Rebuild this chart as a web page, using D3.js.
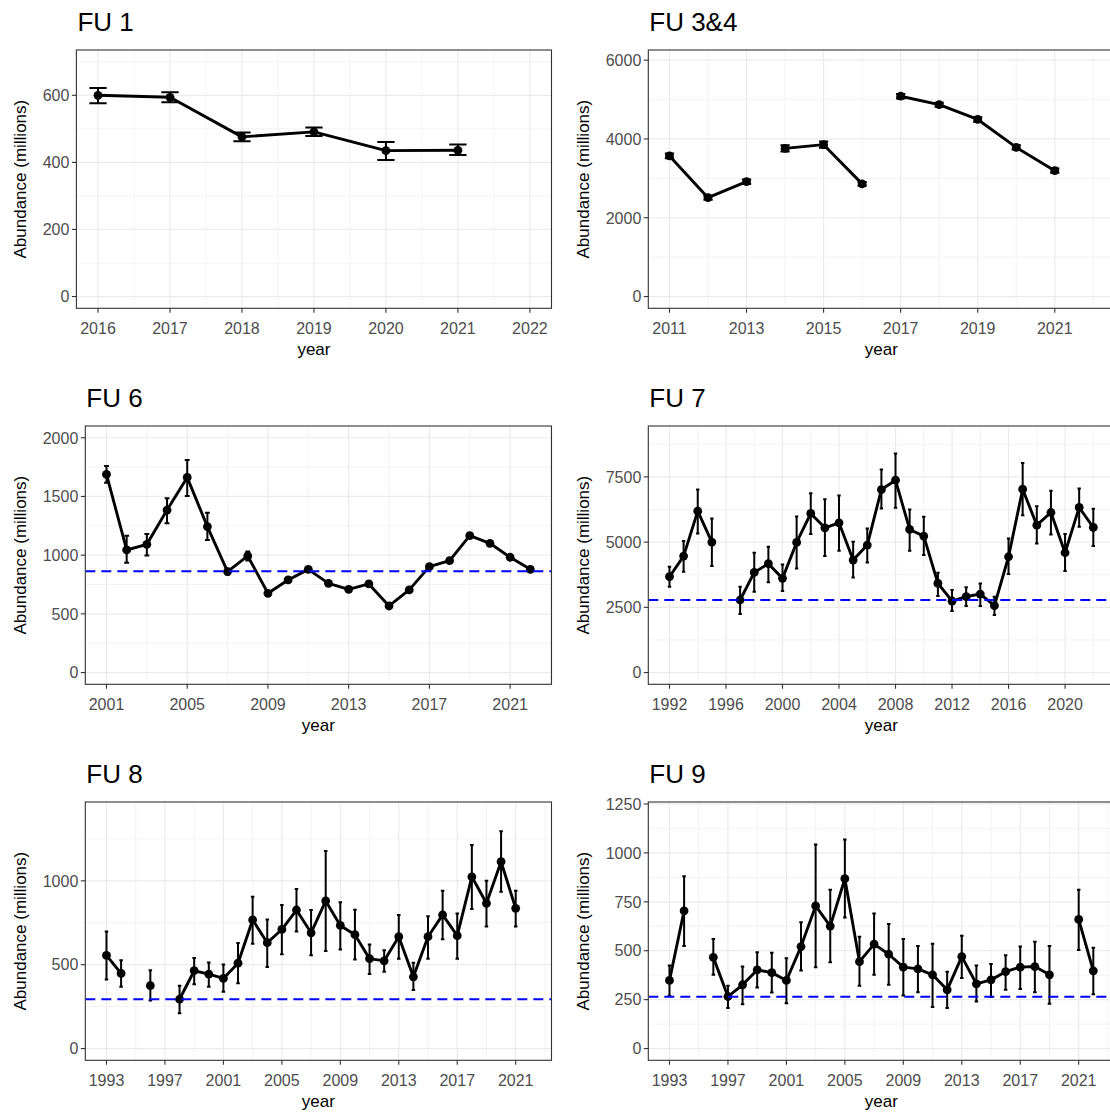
<!DOCTYPE html>
<html>
<head>
<meta charset="utf-8">
<script src="https://cdn.jsdelivr.net/npm/d3@7"></script>
<style>
  body { margin: 0; background: #fff; }
  svg { display: block; }
  text { font-family: "Liberation Sans", Arial, sans-serif; }
</style>
</head>
<body>
<svg id="chart" width="1110" height="1115"></svg>
<script>
// ---------------- DATA ----------------
const panelTitles = ["FU 1", "FU 3&4", "FU 6", "FU 7", "FU 8", "FU 9"];
const yAxisTitle = "Abundance (millions)";
const xAxisTitle = "year";

// FU 1
const fu1Years = [2016, 2017, 2018, 2019, 2020, 2021];
const fu1Est   = [600, 594, 476, 491, 435, 436];
const fu1Lo    = [576, 579, 463, 479, 407, 422];
const fu1Hi    = [622, 609, 489, 504, 461, 453];
const fu1Segments = [[2016, 2021]];
const fu1XTicks = [2016, 2017, 2018, 2019, 2020, 2021, 2022];
const fu1YTicks = [0, 200, 400, 600];
const fu1XLim = [2016, 2022];
const fu1YLim = [0, 700];

// FU 3&4
const fu34Years = [2011, 2012, 2013, 2014, 2015, 2016, 2017, 2018, 2019, 2020, 2021];
const fu34Est   = [3570, 2510, 2915, 3760, 3855, 2860, 5085, 4870, 4495, 3785, 3195];
const fu34Lo    = [3510, 2460, 2860, 3680, 3775, 2810, 5030, 4820, 4440, 3730, 3140];
const fu34Hi    = [3630, 2560, 2970, 3840, 3935, 2910, 5140, 4920, 4550, 3840, 3250];
const fu34Segments = [[2011, 2013], [2014, 2016], [2017, 2021]];
const fu34XTicks = [2011, 2013, 2015, 2017, 2019, 2021];
const fu34YTicks = [0, 2000, 4000, 6000];
const fu34XLim = [2011, 2022];
const fu34YLim = [0, 5960];

// FU 6
const fu6Years = [2001, 2002, 2003, 2004, 2005, 2006, 2007, 2008, 2009, 2010, 2011,
                  2012, 2013, 2014, 2015, 2016, 2017, 2018, 2019, 2020, 2021, 2022];
const fu6Est = [1688, 1044, 1092, 1384, 1662, 1243, 860, 993, 675, 789, 879,
                760, 709, 755, 567, 704, 902, 953, 1166, 1101, 982, 879];
const fu6Lo  = [1617, 936, 996, 1271, 1504, 1129, 835, 955, 655, 769, 859,
                740, 689, 735, 547, 684, 882, 933, 1146, 1081, 962, 859];
const fu6Hi  = [1759, 1166, 1180, 1484, 1810, 1362, 885, 1031, 695, 809, 899,
                780, 729, 775, 587, 724, 922, 973, 1186, 1121, 1002, 899];
const fu6Segments = [[2001, 2022]];
const fu6XTicks = [2001, 2005, 2009, 2013, 2017, 2021];
const fu6YTicks = [0, 500, 1000, 1500, 2000];
const fu6XLim = [2001, 2022];
const fu6YLim = [0, 2000];
const fu6Ref = 862;

// FU 7
const fu7Years = [1992, 1993, 1994, 1995, 1997, 1998, 1999, 2000, 2001, 2002, 2003,
                  2004, 2005, 2006, 2007, 2008, 2009, 2010, 2011, 2012, 2013, 2014,
                  2015, 2016, 2017, 2018, 2019, 2020, 2021, 2022];
const fu7Est = [3673, 4464, 6186, 5000, 2781, 3839, 4171, 3610, 4987, 6097, 5548,
                5740, 4311, 4885, 7015, 7372, 5485, 5230, 3418, 2742, 2908, 3010,
                2564, 4439, 7028, 5650, 6135, 4592, 6327, 5561];
const fu7Lo  = [3291, 3865, 5332, 4082, 2245, 3099, 3457, 3125, 3992, 5306, 4464,
                4668, 3648, 4220, 6288, 6313, 4668, 4503, 2934, 2360, 2551, 2551,
                2207, 3776, 6033, 4949, 5293, 3890, 5587, 4847];
const fu7Hi  = [4056, 5038, 7015, 5905, 3291, 4592, 4821, 4145, 5982, 6875, 6645,
                6786, 5013, 5520, 7781, 8393, 6250, 5969, 3827, 3163, 3265, 3418,
                2908, 5140, 8036, 6378, 6964, 5306, 7054, 6276];
const fu7Segments = [[1992, 1995], [1997, 2022]];
const fu7XTicks = [1992, 1996, 2000, 2004, 2008, 2012, 2016, 2020];
const fu7YTicks = [0, 2500, 5000, 7500];
const fu7XLim = [1992, 2022];
const fu7YLim = [0, 9000];
const fu7Ref = 2780;

// FU 8
const fu8Years = [1993, 1994, 1996, 1998, 1999, 2000, 2001, 2002, 2003, 2004, 2005,
                  2006, 2007, 2008, 2009, 2010, 2011, 2012, 2013, 2014, 2015, 2016,
                  2017, 2018, 2019, 2020, 2021];
const fu8Est = [556, 448, 375, 294, 464, 444, 418, 509, 767, 631, 710,
                826, 690, 880, 734, 679, 536, 523, 667, 428, 667, 797,
                673, 1024, 866, 1114, 836];
const fu8Lo  = [412, 369, 286, 211, 383, 369, 339, 389, 625, 487, 562,
                698, 556, 582, 590, 531, 444, 458, 536, 349, 536, 651,
                536, 832, 728, 935, 728];
const fu8Hi  = [698, 527, 467, 375, 540, 513, 501, 629, 905, 769, 856,
                951, 826, 1178, 872, 828, 621, 586, 797, 511, 789, 941,
                805, 1213, 1000, 1296, 941];
const fu8Segments = [[1993, 1994], [1996, 1996], [1998, 2021]];
const fu8XTicks = [1993, 1997, 2001, 2005, 2009, 2013, 2017, 2021];
const fu8YTicks = [0, 500, 1000];
const fu8XLim = [1993, 2022];
const fu8YLim = [0, 1400];
const fu8Ref = 294;

// FU 9
const fu9Years = [1993, 1994, 1996, 1997, 1998, 1999, 2000, 2001, 2002, 2003, 2004,
                  2005, 2006, 2007, 2008, 2009, 2010, 2011, 2012, 2013, 2014, 2015,
                  2016, 2017, 2018, 2019, 2021, 2022];
const fu9Est = [348, 704, 466, 266, 326, 402, 388, 348, 521, 729, 626,
                868, 444, 534, 482, 416, 407, 377, 300, 470, 331, 351,
                393, 416, 419, 377, 660, 397];
const fu9Lo  = [270, 524, 377, 207, 227, 312, 287, 232, 399, 416, 441,
                670, 321, 377, 326, 271, 288, 212, 207, 360, 241, 263,
                300, 305, 288, 229, 504, 278];
const fu9Hi  = [424, 880, 560, 321, 419, 492, 490, 461, 645, 1043, 812,
                1069, 572, 690, 636, 560, 524, 535, 393, 577, 424, 432,
                477, 521, 546, 524, 812, 515];
const fu9Segments = [[1993, 1994], [1996, 2019], [2021, 2022]];
const fu9XTicks = [1993, 1997, 2001, 2005, 2009, 2013, 2017, 2021];
const fu9YTicks = [0, 250, 500, 750, 1000, 1250];
const fu9XLim = [1993, 2022];
const fu9YLim = [0, 1200];
const fu9Ref = 265;

// ---------------- LAYOUT ----------------
const panels = [
  {title: panelTitles[0], years: fu1Years, est: fu1Est, lo: fu1Lo, hi: fu1Hi, segs: fu1Segments,
   xTicks: fu1XTicks, yTicks: fu1YTicks, xLim: fu1XLim, yLim: fu1YLim, ref: null, col: 0, row: 0},
  {title: panelTitles[1], years: fu34Years, est: fu34Est, lo: fu34Lo, hi: fu34Hi, segs: fu34Segments,
   xTicks: fu34XTicks, yTicks: fu34YTicks, xLim: fu34XLim, yLim: fu34YLim, ref: null, col: 1, row: 0},
  {title: panelTitles[2], years: fu6Years, est: fu6Est, lo: fu6Lo, hi: fu6Hi, segs: fu6Segments,
   xTicks: fu6XTicks, yTicks: fu6YTicks, xLim: fu6XLim, yLim: fu6YLim, ref: fu6Ref, col: 0, row: 1},
  {title: panelTitles[3], years: fu7Years, est: fu7Est, lo: fu7Lo, hi: fu7Hi, segs: fu7Segments,
   xTicks: fu7XTicks, yTicks: fu7YTicks, xLim: fu7XLim, yLim: fu7YLim, ref: fu7Ref, col: 1, row: 1},
  {title: panelTitles[4], years: fu8Years, est: fu8Est, lo: fu8Lo, hi: fu8Hi, segs: fu8Segments,
   xTicks: fu8XTicks, yTicks: fu8YTicks, xLim: fu8XLim, yLim: fu8YLim, ref: fu8Ref, col: 0, row: 2},
  {title: panelTitles[5], years: fu9Years, est: fu9Est, lo: fu9Lo, hi: fu9Hi, segs: fu9Segments,
   xTicks: fu9XTicks, yTicks: fu9YTicks, xLim: fu9XLim, yLim: fu9YLim, ref: fu9Ref, col: 1, row: 2}
];

const colX = [0, 563];
const rowY = [0, 376, 752];
const panelTopOff = 50, panelH = 258.3;
const panelRightOff = 551.5;
const tickLen = 4.5;
const tickFont = 16, titleFont = 26, axisTitleFont = 17;
const gridCol = "#EBEBEB", axisCol = "#333333", tickTextCol = "#4D4D4D";

const svg = d3.select("#chart");

function expand(lim) {
  const r = lim[1] - lim[0];
  return [lim[0] - 0.05 * r, lim[1] + 0.05 * r];
}
function minorBreaks(ticks, dom) {
  const out = [];
  if (ticks.length < 2) return out;
  const step = ticks[1] - ticks[0];
  const ext = [ticks[0] - step].concat(ticks, [ticks[ticks.length - 1] + step]);
  for (let i = 0; i < ext.length - 1; i++) {
    const m = (ext[i] + ext[i + 1]) / 2;
    if (m >= dom[0] && m <= dom[1]) out.push(m);
  }
  return out;
}

const meas = svg.append("text").attr("font-size", tickFont).attr("visibility", "hidden");
function textW(s) { meas.text(s); return meas.node().getComputedTextLength(); }

panels.forEach((p, idx) => {
  const ox = colX[p.col], oy = rowY[p.row];
  const maxLab = d3.max(p.yTicks, t => textW(String(t)));
  const left = ox + 49.7 + maxLab;
  const right = ox + panelRightOff;
  const top = oy + panelTopOff;
  const bottom = top + panelH;

  const xDom = expand(p.xLim), yDom = expand(p.yLim);
  const x = d3.scaleLinear().domain(xDom).range([left, right]);
  const y = d3.scaleLinear().domain(yDom).range([bottom, top]);

  const g = svg.append("g");
  const clipId = "clip" + idx;
  svg.append("clipPath").attr("id", clipId)
    .append("rect").attr("x", left).attr("y", top).attr("width", right - left).attr("height", bottom - top);

  g.append("rect").attr("x", left).attr("y", top).attr("width", right - left).attr("height", bottom - top)
    .attr("fill", "#fff");

  const grid = g.append("g");
  minorBreaks(p.xTicks, xDom).forEach(v => {
    grid.append("line").attr("x1", x(v)).attr("x2", x(v)).attr("y1", top).attr("y2", bottom)
      .attr("stroke", gridCol).attr("stroke-width", 0.6);
  });
  minorBreaks(p.yTicks, yDom).forEach(v => {
    grid.append("line").attr("x1", left).attr("x2", right).attr("y1", y(v)).attr("y2", y(v))
      .attr("stroke", gridCol).attr("stroke-width", 0.6);
  });
  p.xTicks.forEach(v => {
    grid.append("line").attr("x1", x(v)).attr("x2", x(v)).attr("y1", top).attr("y2", bottom)
      .attr("stroke", gridCol).attr("stroke-width", 1.2);
  });
  p.yTicks.forEach(v => {
    grid.append("line").attr("x1", left).attr("x2", right).attr("y1", y(v)).attr("y2", y(v))
      .attr("stroke", gridCol).attr("stroke-width", 1.2);
  });

  const pts = p.years.map((yr, i) => ({yr, est: p.est[i], lo: p.lo[i], hi: p.hi[i]}));
  const plot = g.append("g").attr("clip-path", `url(#${clipId})`);

  // error bars
  const capHalf = 0.12;
  const eb = plot.append("g").attr("stroke", "#000").attr("stroke-width", 2).attr("fill", "none");
  pts.forEach(d => {
    eb.append("line").attr("x1", x(d.yr)).attr("x2", x(d.yr)).attr("y1", y(d.lo)).attr("y2", y(d.hi));
    eb.append("line").attr("x1", x(d.yr - capHalf)).attr("x2", x(d.yr + capHalf)).attr("y1", y(d.lo)).attr("y2", y(d.lo));
    eb.append("line").attr("x1", x(d.yr - capHalf)).attr("x2", x(d.yr + capHalf)).attr("y1", y(d.hi)).attr("y2", y(d.hi));
  });

  // lines by segment
  const line = d3.line().x(d => x(d.yr)).y(d => y(d.est));
  p.segs.forEach(s => {
    const seg = pts.filter(d => d.yr >= s[0] && d.yr <= s[1]);
    if (seg.length > 1) {
      plot.append("path").attr("d", line(seg)).attr("fill", "none")
        .attr("stroke", "#000").attr("stroke-width", 2.9).attr("stroke-linejoin", "round");
    }
  });

  // points
  plot.selectAll("circle.pt").data(pts).enter().append("circle")
    .attr("cx", d => x(d.yr)).attr("cy", d => y(d.est)).attr("r", 4.4).attr("fill", "#000");

  // reference line
  if (p.ref !== null) {
    plot.append("line").attr("x1", left).attr("x2", right).attr("y1", y(p.ref)).attr("y2", y(p.ref))
      .attr("stroke", "#0000FF").attr("stroke-width", 2).attr("stroke-dasharray", "10,6");
  }

  // border
  g.append("rect").attr("x", left).attr("y", top).attr("width", right - left).attr("height", bottom - top)
    .attr("fill", "none").attr("stroke", axisCol).attr("stroke-width", 1.1);

  // ticks
  p.xTicks.forEach(v => {
    g.append("line").attr("x1", x(v)).attr("x2", x(v)).attr("y1", bottom).attr("y2", bottom + tickLen)
      .attr("stroke", axisCol).attr("stroke-width", 1.1);
    g.append("text").attr("x", x(v)).attr("y", bottom + 25.5).attr("text-anchor", "middle")
      .attr("font-size", tickFont).attr("fill", tickTextCol).text(v);
  });
  p.yTicks.forEach(v => {
    g.append("line").attr("x1", left - tickLen).attr("x2", left).attr("y1", y(v)).attr("y2", y(v))
      .attr("stroke", axisCol).attr("stroke-width", 1.1);
    g.append("text").attr("x", left - tickLen - 2.5).attr("y", y(v)).attr("dy", "0.36em")
      .attr("text-anchor", "end").attr("font-size", tickFont).attr("fill", tickTextCol).text(v);
  });

  // axis titles
  g.append("text").attr("x", (left + right) / 2).attr("y", bottom + 47).attr("text-anchor", "middle")
    .attr("font-size", axisTitleFont).attr("fill", "#000").text(xAxisTitle);
  g.append("text").attr("transform", `translate(${ox + 26},${(top + bottom) / 2}) rotate(-90)`)
    .attr("text-anchor", "middle").attr("font-size", axisTitleFont).attr("fill", "#000").text(yAxisTitle);

  // panel title
  g.append("text").attr("x", left + 1).attr("y", top - 19).attr("font-size", titleFont)
    .attr("fill", "#000").text(p.title);
});
meas.remove();
</script>
</body>
</html>
